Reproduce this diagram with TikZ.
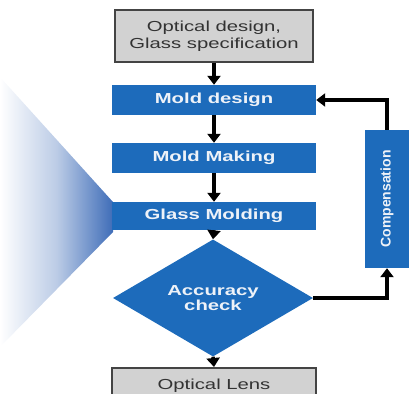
\documentclass[tikz,border=0pt]{standalone}
\usepackage{fontspec}
\setmainfont{Liberation Sans}
\newfontfamily\lab[FakeStretch=1.4]{Liberation Sans}
\usetikzlibrary{shapes.geometric,arrows.meta}
\definecolor{boxblue}{HTML}{1D6BBB}
\definecolor{boxgray}{HTML}{D2D2D2}
\definecolor{bordergray}{HTML}{444444}
\definecolor{fanblue}{HTML}{3F6DB8}
\definecolor{txtgray}{HTML}{333333}
\definecolor{txtwhite}{HTML}{EEF2F8}
\tikzset{
  bluebox/.style={rectangle, fill=boxblue, draw=none, inner sep=0pt,
    minimum width=204pt, minimum height=30pt, text=txtwhite,
    font=\lab\bfseries\fontsize{14.5}{16}\selectfont},
  graybox/.style={rectangle, fill=boxgray, draw=bordergray, line width=1.5pt, inner sep=0pt,
    text=txtgray, align=center,
    font=\lab\fontsize{14.5}{17}\selectfont},
  flow/.style={line width=3.5pt, draw=black, -{Triangle[width=13pt,length=9pt]}},
}
\begin{document}
\begin{tikzpicture}[x=1pt,y=-1pt]
\useasboundingbox (0,0) rectangle (409,393);
\clip (0,0) rectangle (409,393);
% fan
\shade[left color=white, right color=fanblue, middle color=fanblue!35]
  (0,77) -- (113,202) -- (113,232) -- (0,347) -- cycle;
% nodes
\node[graybox, minimum width=198pt, minimum height=52pt] (opt) at (214,36)
  {Optical design,\\Glass specification};
\node[bluebox] (md) at (214,100) {Mold design};
\node[bluebox] (mm) at (214,158) {Mold Making};
\node[bluebox, minimum height=28pt] (gm) at (214,216) {Glass Molding};
\node[diamond, fill=boxblue, inner sep=0pt, minimum width=200pt, minimum height=76pt,
  text=txtwhite, align=center, font=\lab\bfseries\fontsize{14.5}{15.5}\selectfont]
  (acc) at (213,298) {Accuracy\\check};
\node[graybox, minimum width=204pt, minimum height=36pt, anchor=north] (lens) at (214,367)
  {Optical Lens};
\node[rectangle, fill=boxblue, inner sep=0pt, minimum width=44pt, minimum height=138pt]
  (comp) at (387,199) {};
\node[rotate=90, text=txtwhite, font=\bfseries\fontsize{14}{15}\selectfont] (comptxt)
  at (comp.center) {Compensation};
% connectors
\draw[flow] (opt.south) -- (md.north);
\draw[flow] (md.south) -- (mm.north);
\draw[flow] (mm.south) -- (gm.north);
\draw[flow] (gm.south) -- (acc.north);
\draw[flow] (acc.south) -- (lens.north);
\draw[flow] (acc.east) -| (comp.south);
\draw[flow] (comp.north) |- (md.east);
\end{tikzpicture}
\end{document}
